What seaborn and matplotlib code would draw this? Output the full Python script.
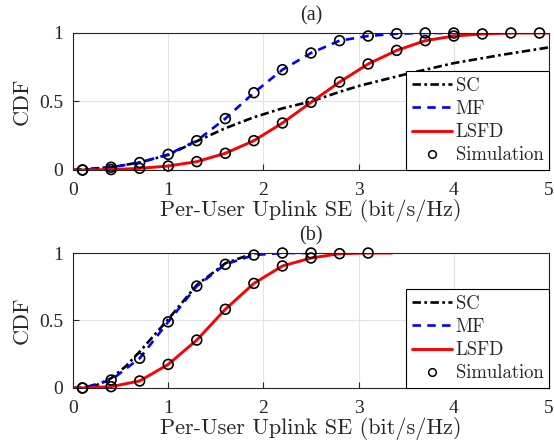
import matplotlib
matplotlib.use("Agg")
import matplotlib.pyplot as plt
from matplotlib.lines import Line2D
import seaborn as sns

# ---------------- data ----------------
# (a) simulation points
sim_x_a = [0.1, 0.4, 0.7, 1.0, 1.3, 1.6, 1.9, 2.2, 2.5, 2.8, 3.1, 3.4, 3.7, 4.0, 4.3, 4.6, 4.9]
sim_lsfd_a = [0.0, 0.003, 0.012, 0.029, 0.061, 0.122, 0.214, 0.343, 0.494, 0.642,
              0.774, 0.873, 0.944, 0.978, 0.993, 1.0, 1.0]
sim_mf_a = [0.0, 0.02, 0.054, 0.114, 0.214, 0.375, 0.564, 0.732, 0.854, 0.944,
            0.978, 0.995, 1.0, 1.0]

# (a) analytical curves
lsfd_x_a = [0.0] + sim_x_a + [5.0]
lsfd_y_a = [0.0] + sim_lsfd_a + [1.0]
mf_x_a = [0.0] + sim_x_a[:14] + [4.1]
mf_y_a = [0.0] + sim_mf_a + [1.0]
sc_x_a = [0.0, 0.4, 0.7, 1.0, 1.3, 1.6, 1.9, 2.2, 2.5, 2.8, 3.0, 3.5, 4.0, 4.5, 5.0]
sc_y_a = [0.0, 0.02, 0.055, 0.11, 0.21, 0.305, 0.385, 0.45, 0.50, 0.57, 0.613,
          0.70, 0.78, 0.84, 0.895]

# (b) simulation points
sim_x_b = [0.1, 0.4, 0.7, 1.0, 1.3, 1.6, 1.9, 2.2, 2.5, 2.8, 3.1]
sim_lsfd_b = [0.0, 0.01, 0.052, 0.175, 0.355, 0.583, 0.775, 0.904, 0.963, 0.995, 1.0]
sim_mf_b = [0.0, 0.059, 0.22, 0.49, 0.755, 0.916, 0.985, 1.0, 1.0]

# (b) analytical curves
lsfd_x_b = [0.0] + sim_x_b + [3.35]
lsfd_y_b = [0.0] + sim_lsfd_b + [1.0]
mf_x_b = [0.0] + sim_x_b[:9]
mf_y_b = [0.0] + sim_mf_b
sc_x_b = [0.0, 0.1, 0.25, 0.4, 0.55, 0.7, 1.0, 1.3, 1.6, 1.9, 2.0]
sc_y_b = [0.0, 0.003, 0.022, 0.072, 0.158, 0.269, 0.509, 0.763, 0.924, 0.998, 1.0]

x_ticks = [0, 1, 2, 3, 4, 5]
y_ticks = [0, 0.5, 1]
y_tick_labels = ["0", "0.5", "1"]

# ---------------- style ----------------
sns.set_theme(style="whitegrid")
plt.rcParams["font.family"] = ["Liberation Serif", "DejaVu Serif"]

LW = 1.9
SC_STYLE = dict(color="black", linestyle=(0, (3.2, 1.3, 1.0, 1.3)), lw=LW)
MF_STYLE = dict(color="#0000ff", linestyle=(0, (3.2, 2.4)), lw=LW)
LSFD_STYLE = dict(color="#ff0000", linestyle="-", lw=LW + 0.2)
LABEL_FONT = dict(family="cmr10", size=16)

fig = plt.figure(figsize=(5.54, 4.47), dpi=100)
ax_a = fig.add_axes([0.1318, 0.6197, 0.8592, 0.3065])
ax_b = fig.add_axes([0.1318, 0.1320, 0.8592, 0.3020])


def draw_panel(ax, title, sc, mf, lsfd, sims):
    sns.lineplot(x=sc[0], y=sc[1], ax=ax, sort=False, estimator=None, **SC_STYLE)
    sns.lineplot(x=mf[0], y=mf[1], ax=ax, sort=False, estimator=None, **MF_STYLE)
    sns.lineplot(x=lsfd[0], y=lsfd[1], ax=ax, sort=False, estimator=None, **LSFD_STYLE)
    for sx, sy in sims:
        sns.scatterplot(x=sx, y=sy, ax=ax, marker="o", s=50, facecolors="none",
                        edgecolors="black", linewidth=1.2, zorder=5, clip_on=False)

    ax.set_xlim(0, 5)
    ax.set_ylim(0, 1)
    ax.set_xticks(x_ticks)
    ax.set_yticks(y_ticks)
    ax.set_yticklabels(y_tick_labels)
    ax.tick_params(axis="both", direction="in", length=4, width=0.8, labelsize=14,
                   colors="#262626", bottom=True, left=True)
    ax.tick_params(axis="x", pad=9)
    ax.tick_params(axis="y", pad=7)
    ax.grid(True, color="#e3e3e3", lw=0.8)
    for name, sp in ax.spines.items():
        sp.set_visible(True)
        sp.set_linewidth(0.8)
        sp.set_color("#262626")
    ax.set_xlabel("Per-User Uplink SE (bit/s/Hz)", fontdict=LABEL_FONT, labelpad=0)
    ax.set_ylabel("CDF", fontdict=LABEL_FONT, labelpad=5)
    ax.set_title(title, fontsize=14.5, pad=9)

    handles = [
        Line2D([], [], **SC_STYLE),
        Line2D([], [], **MF_STYLE),
        Line2D([], [], **LSFD_STYLE),
        Line2D([], [], linestyle="none", marker="o", ms=5.5, mfc="none",
               mec="black", mew=1.1),
    ]
    leg = ax.legend(handles, ["SC", "MF", "LSFD", "Simulation"], loc="lower right",
                    bbox_to_anchor=(1.0, 0.0), borderaxespad=0.0, fancybox=False,
                    framealpha=1.0, edgecolor="black", prop=dict(family="cmr10", size=13.5),
                    handlelength=2.15, handletextpad=0.2, labelspacing=0.28,
                    borderpad=0.3)
    leg.get_frame().set_linewidth(0.8)
    leg.set_zorder(10)


draw_panel(ax_a, "(a)", (sc_x_a, sc_y_a), (mf_x_a, mf_y_a), (lsfd_x_a, lsfd_y_a),
           [(sim_x_a[:14], sim_mf_a), (sim_x_a, sim_lsfd_a)])
draw_panel(ax_b, "(b)", (sc_x_b, sc_y_b), (mf_x_b, mf_y_b), (lsfd_x_b, lsfd_y_b),
           [(sim_x_b[:9], sim_mf_b), (sim_x_b, sim_lsfd_b)])

fig.savefig("out.png", dpi=100)
